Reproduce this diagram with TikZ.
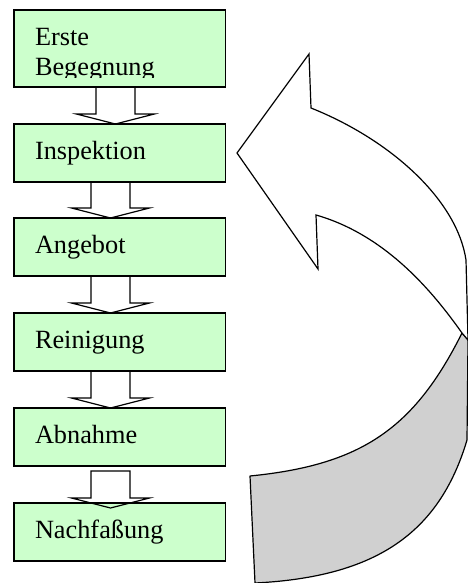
\documentclass[tikz,border=0pt]{standalone}
\usepackage{fontspec}
\setmainfont{Liberation Serif}
\usetikzlibrary{calc}

\definecolor{boxgreen}{RGB}{204,255,204}
\definecolor{foldgray}{RGB}{208,208,208}

% block arrow from one box down to the next: from, to, axis offset, drop
\newcommand{\flowarrow}[4]{%
\draw[blockarrow] ($(#1.south)+(#3-19.5,#4)$) -- ($(#2.north)+(#3-19.5,#4-10)$)
  -- ($(#2.north)+(#3-39,#4-10)$) -- ($(#2.north)+(#3,#4)$)
  -- ($(#2.north)+(#3+39,#4-10)$) -- ($(#2.north)+(#3+19.5,#4-10)$)
  -- ($(#1.south)+(#3+19.5,#4)$) -- cycle;}

\begin{document}
\begin{tikzpicture}[x=1pt,y=-1pt,inner sep=0pt,outer sep=0pt,
font=\fontsize{26.3}{30.3}\selectfont,
stepbox/.style={draw,rectangle,fill=boxgreen,line width=1.5pt,anchor=north west,
  minimum width=211.5,minimum height=58,inner xsep=21pt,text width=169.5,align=left,
  text height=18,text depth=6},
blockarrow/.style={draw,line width=1.2pt,line join=miter}]

\useasboundingbox (0,0) rectangle (467,583);

\draw (14,10) node[stepbox,minimum height=77] (erste) {};
\draw (14,124) node[stepbox] (inspektion) {Inspektion};
\draw (14,218) node[stepbox] (angebot) {Angebot};
\draw (14,313) node[stepbox] (reinigung) {Reinigung};
\draw (14,408) node[stepbox] (abnahme) {Abnahme};
\draw (14,503) node[stepbox] (nachfassung) {Nachfaßung};

\begin{scope}
\clip (erste.north west) rectangle ($(erste.south east)+(0,-9.5)$);
\draw (35,76) node[anchor=base west,align=left] (ersteText) {Erste\\Begegnung};
\end{scope}

\flowarrow{erste}{inspektion}{-4.35}{0}
\flowarrow{inspektion}{angebot}{-9.25}{0}
\flowarrow{angebot}{reinigung}{-9.25}{0}
\flowarrow{reinigung}{abnahme}{-9.25}{0}
\flowarrow{abnahme}{nachfassung}{-9.25}{5}

% curved return arrow, back face first
\filldraw[fill=foldgray,line width=1.2pt,line join=round] (462,333)
  .. controls (414,429) and (361,465) .. (250,476)
  -- (255,583)
  .. controls (375,577) and (439,534) .. (467,440)
  -- (468,340) -- cycle;
\filldraw[fill=white,line width=1.2pt,line join=miter] (311,108) -- (309,54) -- (237,153) -- (318,269) -- (316,215)
  .. controls (386,235) and (433,292) .. (462,333)
  -- (468,340) -- (466,260)
  .. controls (457,200) and (391,140) .. (311,108)
  -- cycle;
\end{tikzpicture}
\end{document}
